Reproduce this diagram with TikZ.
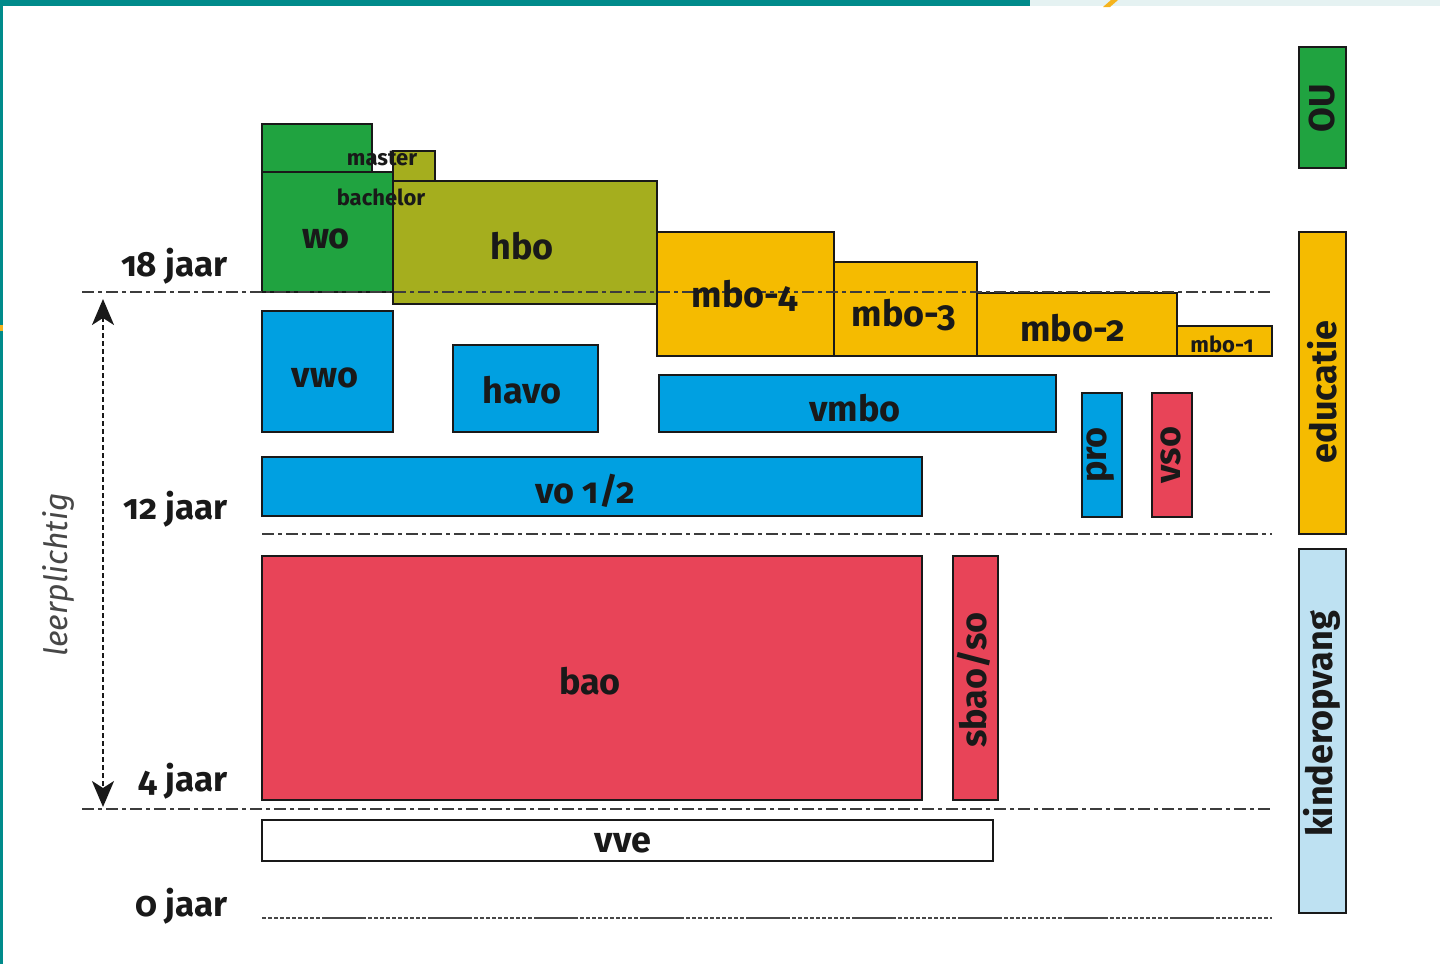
\documentclass[tikz,border=0pt]{standalone}
\usepackage{fontspec}
\setmainfont{Fira Sans}[Numbers=OldStyle]
\usetikzlibrary{fit,arrows.meta}
\definecolor{teal0}{RGB}{0,139,139}
\definecolor{tealL}{RGB}{229,242,242}
\definecolor{gr}{RGB}{32,163,64}
\definecolor{ol}{RGB}{165,174,30}
\definecolor{ye}{RGB}{245,187,0}
\definecolor{bl}{RGB}{0,160,225}
\definecolor{rd}{RGB}{232,68,88}
\definecolor{lb}{RGB}{190,225,242}
\definecolor{ink}{RGB}{25,25,25}
\definecolor{orng}{RGB}{245,180,30}
\tikzset{
  bx/.style={draw=ink, line width=1.2pt, inner sep=0pt, text=ink,
    font=\bfseries\fontsize{18}{20}\selectfont},
  lab/.style={text=ink, inner sep=0pt, font=\bfseries\fontsize{18}{20}\selectfont},
  rot/.style={rotate=90, text=ink, inner sep=0pt, font=\bfseries\fontsize{18}{20}\selectfont},
  small/.style={text=ink, inner sep=0pt, font=\bfseries\fontsize{11}{12}\selectfont},
  age/.style={text=ink, inner sep=0pt, anchor=east, font=\bfseries\fontsize{17.5}{19}\selectfont},
  dl/.style={draw=ink!85, line width=1.4pt, dash pattern=on 6pt off 2pt on 2pt off 2pt},
  dz/.style={draw=ink!80, line width=1.4pt, dash pattern=on 2pt off 1pt on 2pt off 1pt on 2pt off 1pt on 2pt off 1pt on 2pt off 1pt on 2pt off 1pt on 2pt off 1pt on 2pt off 1pt on 2pt off 1pt on 2pt off 1pt on 22pt off 1pt},
}
\begin{document}
\begin{tikzpicture}[x=0.5pt,y=-0.5pt]
\useasboundingbox (0,0) rectangle (1440,964);
\fill[white] (0,0) rectangle (1440,964);
% frame decorations
\fill[teal0] (0,0) rectangle (1030,6);
\fill[tealL] (1030,0) rectangle (1440,6);
\fill[orng] (1103,7) -- (1110,7) -- (1118,0) -- (1111,0) -- cycle;
\fill[teal0] (0,0) rectangle (3,964);
\fill[orng] (0,325) rectangle (3,331);

% coordinates
\coordinate (womA) at (262,124); \coordinate (womB) at (372,172);
\coordinate (woA) at (262,172);  \coordinate (woB) at (393,292);
\coordinate (hbmA) at (393,151); \coordinate (hbmB) at (435,181);
\coordinate (hboA) at (393,181); \coordinate (hboB) at (657,304);

% wo / hbo
\node[bx, fill=gr, fit=(womA)(womB)] (wom) {};
\node[bx, fill=gr, fit=(woA)(woB)] (wo) {};
\node[bx, fill=ol, fit=(hbmA)(hbmB)] (hbm) {};
\node[bx, fill=ol, fit=(hboA)(hboB)] (hbo) {};

% mbo
\coordinate (m4A) at (657,232); \coordinate (m4B) at (834,356);
\coordinate (m3A) at (834,262); \coordinate (m3B) at (977,356);
\coordinate (m2A) at (977,293); \coordinate (m2B) at (1177,356);
\coordinate (m1A) at (1177,326); \coordinate (m1B) at (1272,356);
\node[bx, fill=ye, fit=(m4A)(m4B)] (mbo4) {};
\node[bx, fill=ye, fit=(m3A)(m3B)] (mbo3) {};
\node[bx, fill=ye, fit=(m2A)(m2B)] (mbo2) {};
\node[bx, fill=ye, fit=(m1A)(m1B)] (mbo1) {};

% secondary
\coordinate (vwA) at (262,311); \coordinate (vwB) at (393,432);
\coordinate (haA) at (453,345); \coordinate (haB) at (598,432);
\coordinate (vmA) at (659,375); \coordinate (vmB) at (1056,432);
\coordinate (voA) at (262,457); \coordinate (voB) at (922,516);
\coordinate (prA) at (1082,393); \coordinate (prB) at (1122,517);
\coordinate (vsA) at (1152,393); \coordinate (vsB) at (1192,517);
\node[bx, fill=bl, fit=(vwA)(vwB)] (vwo) {};
\node[bx, fill=bl, fit=(haA)(haB)] (havo) {};
\node[bx, fill=bl, fit=(vmA)(vmB)] (vmbo) {};
\node[bx, fill=bl, fit=(voA)(voB)] (vo) {};
\node[bx, fill=bl, fit=(prA)(prB)] (pro) {};
\node[bx, fill=rd, fit=(vsA)(vsB)] (vso) {};

% primary
\coordinate (baA) at (262,556); \coordinate (baB) at (922,800);
\coordinate (sbA) at (953,556); \coordinate (sbB) at (998,800);
\coordinate (vvA) at (262,820); \coordinate (vvB) at (993,861);
\node[bx, fill=rd, fit=(baA)(baB)] (bao) {};
\node[bx, fill=rd, fit=(sbA)(sbB)] (sbao) {};
\node[bx, fill=white, fit=(vvA)(vvB)] (vve) {};

% right column
\coordinate (ouA) at (1299,47); \coordinate (ouB) at (1346,168);
\coordinate (edA) at (1299,232); \coordinate (edB) at (1346,534);
\coordinate (kiA) at (1299,549); \coordinate (kiB) at (1346,913);
\node[bx, fill=gr, fit=(ouA)(ouB)] (ou) {};
\node[bx, fill=ye, fit=(edA)(edB)] (edu) {};
\node[bx, fill=lb, fit=(kiA)(kiB)] (kind) {};

% dashed age lines
\coordinate (d18a) at (82,292);  \coordinate (d18b) at (1272,292);
\coordinate (d12a) at (262,534); \coordinate (d12b) at (1272,534);
\coordinate (d4a) at (82,809);   \coordinate (d4b) at (1272,809);
\coordinate (d0a) at (262,918);  \coordinate (d0b) at (1272,918);
\draw[dl] (d18a) -- (d18b);
\draw[dl] (d12a) -- (d12b);
\draw[dl] (d4a) -- (d4b);
\draw[dz] (d0a) -- (d0b);

% leerplichtig arrow
\coordinate (arT) at (103,299);
\coordinate (arB) at (103,807);
\draw[draw=ink, line width=1.1pt, dash pattern=on 2.5pt off 1.5pt,
  {Stealth[length=13pt,width=11pt,inset=3.5pt]}-{Stealth[length=13pt,width=11pt,inset=3.5pt]}] (arT) -- (arB);
\node[rotate=90, text=ink!80, inner sep=0pt, font=\itshape\fontsize{16}{18}\selectfont] (leer) at (58,575) {leerplichtig};

% labels
\node[lab] (woL) at (326,239) {wo};
\node[lab] (hboL) at (522,246) {hbo};
\node[small] (masL) at (382,158) {master};
\node[small] (bacL) at (381,197) {bachelor};
\node[lab] (m4L) at (745,296) {mbo-4};
\node[lab] (m3L) at (904,315) {mbo-3};
\node[lab] (m2L) at (1073,328) {mbo-2};
\node[small] (m1L) at (1222,344) {mbo-1};
\node[lab] (vwoL) at (325,378) {vwo};
\node[lab] (havoL) at (522,390) {havo};
\node[lab] (vmboL) at (855,408) {vmbo};
\node[lab] (voL) at (585,491) {vo 1/2};
\node[rot] (proL) at (1101,455) {pro};
\node[rot] (vsoL) at (1171,455) {vso};
\node[lab] (baoL) at (590,681) {bao};
\node[rot] (sbaoL) at (974,680) {sbao/so};
\node[lab] (vveL) at (623,843) {vve};
\node[rot] (ouL) at (1322,108) {OU};
\node[rot] (eduL) at (1322,392) {educatie};
\node[rot] (kindL) at (1322,724) {kinderopvang};

% ages
\node[age] (a18) at (228,266) {18 jaar};
\node[age] (a12) at (228,509) {12 jaar};
\node[age] (a4) at (228,781) {4 jaar};
\node[age] (a0) at (228,906) {0 jaar};
\end{tikzpicture}
\end{document}
